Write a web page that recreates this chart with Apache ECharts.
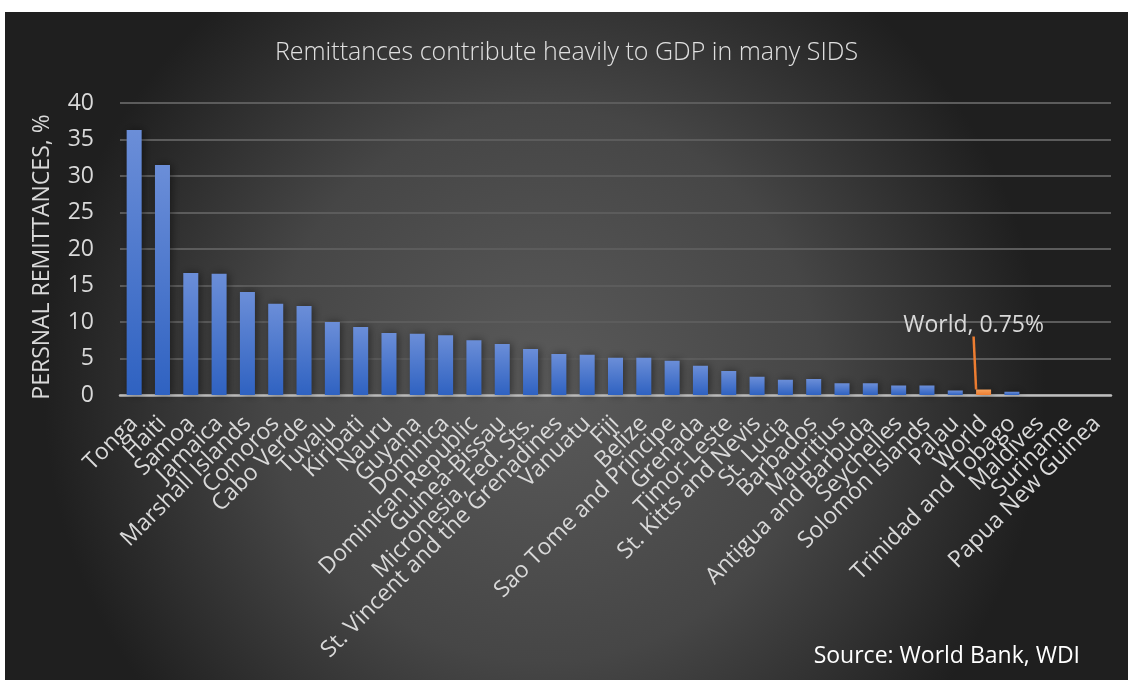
<!DOCTYPE html>
<html>
<head>
<meta charset="utf-8">
<script src="https://cdn.jsdelivr.net/npm/echarts@6/dist/echarts.min.js"></script>
<style>
  html, body { margin: 0; padding: 0; background: #fff; }
  #chart { position: absolute; left: 5px; top: 12px; width: 1123px; height: 668px; }
</style>
</head>
<body>
<div id="chart"></div>
<script>
// remittances as % of GDP, small island developing states (World Bank WDI)
var countries = ['Tonga', 'Haiti', 'Samoa', 'Jamaica', 'Marshall Islands', 'Comoros', 'Cabo Verde',
    'Tuvalu', 'Kiribati', 'Nauru', 'Guyana', 'Dominica', 'Dominican Republic', 'Guinea-Bissau',
    'Micronesia, Fed. Sts.', 'St. Vincent and the Grenadines', 'Vanuatu', 'Fiji', 'Belize',
    'Sao Tome and Principe', 'Grenada', 'Timor-Leste', 'St. Kitts and Nevis', 'St. Lucia',
    'Barbados', 'Mauritius', 'Antigua and Barbuda', 'Seychelles', 'Solomon Islands', 'Palau',
    'World', 'Trinidad and Tobago', 'Maldives', 'Suriname', 'Papua New Guinea'];
var remittances = [36.3, 31.5, 16.7, 16.6, 14.1, 12.5, 12.2,
    10.0, 9.3, 8.5, 8.4, 8.2, 7.5, 7.0,
    6.3, 5.6, 5.5, 5.1, 5.1,
    4.7, 4.0, 3.3, 2.5, 2.1,
    2.2, 1.6, 1.6, 1.3, 1.3, 0.6,
    0.75, 0.45, 0, 0, 0];
var yTicks = [0, 5, 10, 15, 20, 25, 30, 35, 40];
var highlight = 'World';
var highlightLabel = 'World, 0.75%';

var blue = new echarts.graphic.LinearGradient(0, 0, 0, 1, [
    {offset: 0, color: '#6b8ed8'}, {offset: 1, color: '#2f62c1'}]);
var orange = new echarts.graphic.LinearGradient(0, 0, 0, 1, [
    {offset: 0, color: '#f7a25c'}, {offset: 1, color: '#ed7d31'}]);

var font = 'Open Sans';
var hiIdx = countries.indexOf(highlight);
var barData = remittances.map(function (v, i) {
    if (i !== hiIdx) return v;
    return {
        value: v,
        itemStyle: {color: orange},
        label: {
            show: true, position: 'top', formatter: highlightLabel,
            color: '#d9d9d9', fontSize: 23, fontFamily: font
        },
        labelLine: {show: true, lineStyle: {color: '#ed7d31', width: 2.5}}
    };
});

var chart = echarts.init(document.getElementById('chart'));
var option = {
    backgroundColor: {
        type: 'radial', x: 0.48, y: 0.56, r: 0.75,
        colorStops: [{offset: 0, color: '#5a5a5a'}, {offset: 0.55, color: '#464646'}, {offset: 1, color: '#1f1f1f'}]
    },
    title: {
        text: 'Remittances contribute heavily to GDP in many SIDS',
        left: 'center', top: 23,
        textStyle: {color: '#e0e0e0', fontSize: 25, fontWeight: 'lighter', fontFamily: font}
    },
    graphic: [{
        type: 'text', right: 48, bottom: 12,
        style: {text: 'Source: World Bank, WDI', fill: '#ffffff', fontSize: 23, fontFamily: font}
    }],
    grid: {left: 115, right: 17, top: 91, bottom: 285},
    xAxis: {
        type: 'category',
        data: countries,
        axisTick: {show: false},
        axisLine: {lineStyle: {color: '#bdbdbd', width: 2.5}},
        axisLabel: {
            interval: 0, rotate: 45, margin: 25,
            color: '#d9d9d9', fontSize: 23, fontFamily: font
        }
    },
    yAxis: {
        type: 'value',
        min: yTicks[0], max: yTicks[yTicks.length - 1], interval: 5,
        name: 'PERSNAL REMITTANCES, %',
        nameLocation: 'middle', nameGap: 66,
        nameTextStyle: {color: '#d9d9d9', fontSize: 23, fontFamily: font, padding: [0, 16, 0, 0]},
        axisLine: {show: false},
        axisTick: {show: false},
        axisLabel: {color: '#d9d9d9', fontSize: 23, fontFamily: font, margin: 26},
        splitLine: {lineStyle: {color: '#5c5c5c', width: 2}}
    },
    series: [{
        type: 'bar',
        data: barData,
        barWidth: '53%',
        itemStyle: {
            color: blue,
            shadowBlur: 8, shadowColor: 'rgba(0,0,0,0.45)', shadowOffsetX: 2
        },
        labelLayout: function (p) {
            if (p.dataIndex === hiIdx) return {dx: -10, dy: -48};
        },
        z: 3
    }]
};
chart.setOption(option);
</script>
</body>
</html>
